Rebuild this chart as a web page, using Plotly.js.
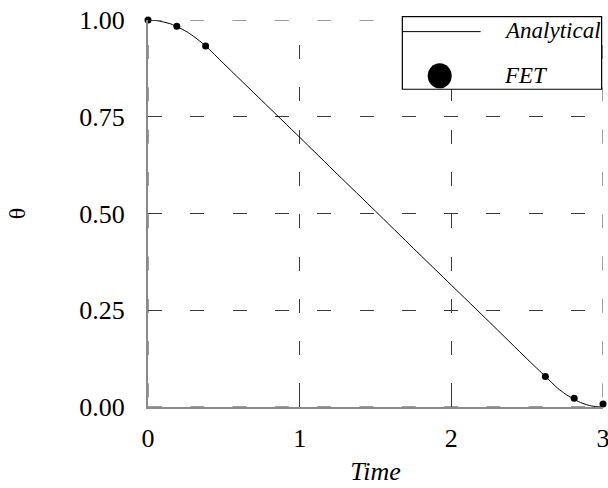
<!DOCTYPE html>
<html>
<head>
<meta charset="utf-8">
<script src="https://cdn.plot.ly/plotly-3.0.1.min.js"></script>
<style>
  html, body { margin: 0; padding: 0; background: #fff; }
  #chart { width: 608px; height: 488px; }
</style>
</head>
<body>
<div id="chart"></div>
<script>
// Analytical solution: theta versus time
const timeAnalytical  = [0, 0.05, 0.1, 0.15, 0.2, 0.25, 0.3, 0.38, 0.5, 0.75, 1.0, 1.25, 1.5, 1.75, 2.0, 2.25, 2.5, 2.62, 2.7, 2.75, 2.8, 2.85, 2.9, 2.95, 3.0];
const thetaAnalytical = [1.000, 0.999, 0.995, 0.990, 0.981, 0.971, 0.958, 0.933, 0.887, 0.792, 0.697, 0.601, 0.506, 0.410, 0.315, 0.220, 0.124, 0.079, 0.049, 0.034, 0.022, 0.012, 0.005, 0.001, 0.000];

// FET solution points
const timeFET  = [0, 0.19, 0.38, 2.62, 2.81, 3.0];
const thetaFET = [1.000, 0.984, 0.933, 0.0785, 0.0227, 0.008];

// Axis ticks
const xTicks = [0, 1, 2, 3];
const yTicks = [0, 0.25, 0.5, 0.75, 1.0];
const yTickText = ['0.00', '0.25', '0.50', '0.75', '1.00'];

// Legend entries
const legendNames = ['Analytical', 'FET'];

const serif = 'Liberation Serif, Times New Roman, serif';
const gridColor = '#3a3a3a';
const xDash = '0px,25px,14px,3.3px';
const yDash = '14px,28.3px';

const traces = [
  {
    x: timeAnalytical, y: thetaAnalytical,
    type: 'scatter', mode: 'lines',
    line: { color: '#000', width: 1, shape: 'spline', smoothing: 0.6 },
    cliponaxis: false, showlegend: false, hoverinfo: 'skip'
  },
  {
    x: timeFET, y: thetaFET,
    type: 'scatter', mode: 'markers',
    marker: { color: '#000', size: 7 },
    cliponaxis: false, showlegend: false, hoverinfo: 'skip'
  }
];

// Grid lines on the plot edges (Plotly drops grid lines that sit on the range ends)
const edgeGrid = [];
[xTicks[0], xTicks[xTicks.length - 1]].forEach(function (v) {
  edgeGrid.push({ type: 'line', xref: 'x', yref: 'paper', x0: v, x1: v, y0: 1, y1: 0,
    line: { color: gridColor, width: 1, dash: xDash }, layer: 'above' });
});
[yTicks[0], yTicks[yTicks.length - 1]].forEach(function (v) {
  edgeGrid.push({ type: 'line', xref: 'paper', yref: 'y', x0: 0, x1: 1, y0: v, y1: v,
    line: { color: gridColor, width: 1, dash: yDash }, layer: 'above' });
});

// Hand-drawn legend box (long line sample, large dot)
const legendShapes = [
  { type: 'rect', xref: 'paper', yref: 'paper', x0: 0.559, x1: 0.997, y0: 0.821, y1: 1.0085,
    line: { color: '#000', width: 1.2 }, fillcolor: '#fff', layer: 'above' },
  { type: 'line', xref: 'paper', yref: 'paper', x0: 0.559, x1: 0.731, y0: 0.970, y1: 0.970,
    line: { color: '#000', width: 1 }, layer: 'above' },
  { type: 'circle', xref: 'paper', yref: 'paper', x0: 0.6147, x1: 0.6675, y0: 0.8235, y1: 0.8881,
    line: { width: 0 }, fillcolor: '#000', layer: 'above' }
];

const annotations = [
  { xref: 'paper', yref: 'paper', x: 0.777, y: 0.972, xanchor: 'left', yanchor: 'middle',
    text: '<i>' + legendNames[0] + '</i>', showarrow: false,
    font: { family: serif, size: 23, color: '#000' } },
  { xref: 'paper', yref: 'paper', x: 0.777, y: 0.857, xanchor: 'left', yanchor: 'middle',
    text: '<i>' + legendNames[1] + '</i>', showarrow: false,
    font: { family: serif, size: 23, color: '#000' } }
];

const layout = {
  width: 608, height: 488,
  margin: { l: 148, r: 5, t: 20, b: 81 },
  paper_bgcolor: '#fff', plot_bgcolor: '#fff',
  font: { family: serif, size: 26, color: '#000' },
  showlegend: false,
  xaxis: {
    range: [0, 3], tickvals: xTicks, ticktext: xTicks.map(String),
    showline: true, linecolor: '#8a8a8a', linewidth: 2,
    showgrid: true, gridcolor: gridColor, gridwidth: 1, griddash: xDash,
    zeroline: false, ticks: 'inside', ticklen: 12, tickcolor: gridColor, tickwidth: 1,
    ticklabelstandoff: 7, ticklabeloverflow: 'allow',
    tickfont: { family: serif, size: 26, color: '#000' },
    title: { text: '<i>Time</i>', font: { family: serif, size: 26, color: '#000' }, standoff: 10 },
    fixedrange: true
  },
  yaxis: {
    range: [0, 1], tickvals: yTicks, ticktext: yTickText,
    showline: true, linecolor: '#8a8a8a', linewidth: 2,
    showgrid: true, gridcolor: gridColor, gridwidth: 1, griddash: yDash,
    zeroline: false, ticks: '', ticklabelstandoff: 16, ticklabeloverflow: 'allow',
    tickfont: { family: serif, size: 26, color: '#000' },
    title: { text: 'θ', font: { family: serif, size: 24, color: '#000' }, standoff: 47 },
    fixedrange: true
  },
  shapes: edgeGrid.concat(legendShapes),
  annotations: annotations
};

Plotly.newPlot('chart', traces, layout, { staticPlot: true, displayModeBar: false });
</script>
</body>
</html>
